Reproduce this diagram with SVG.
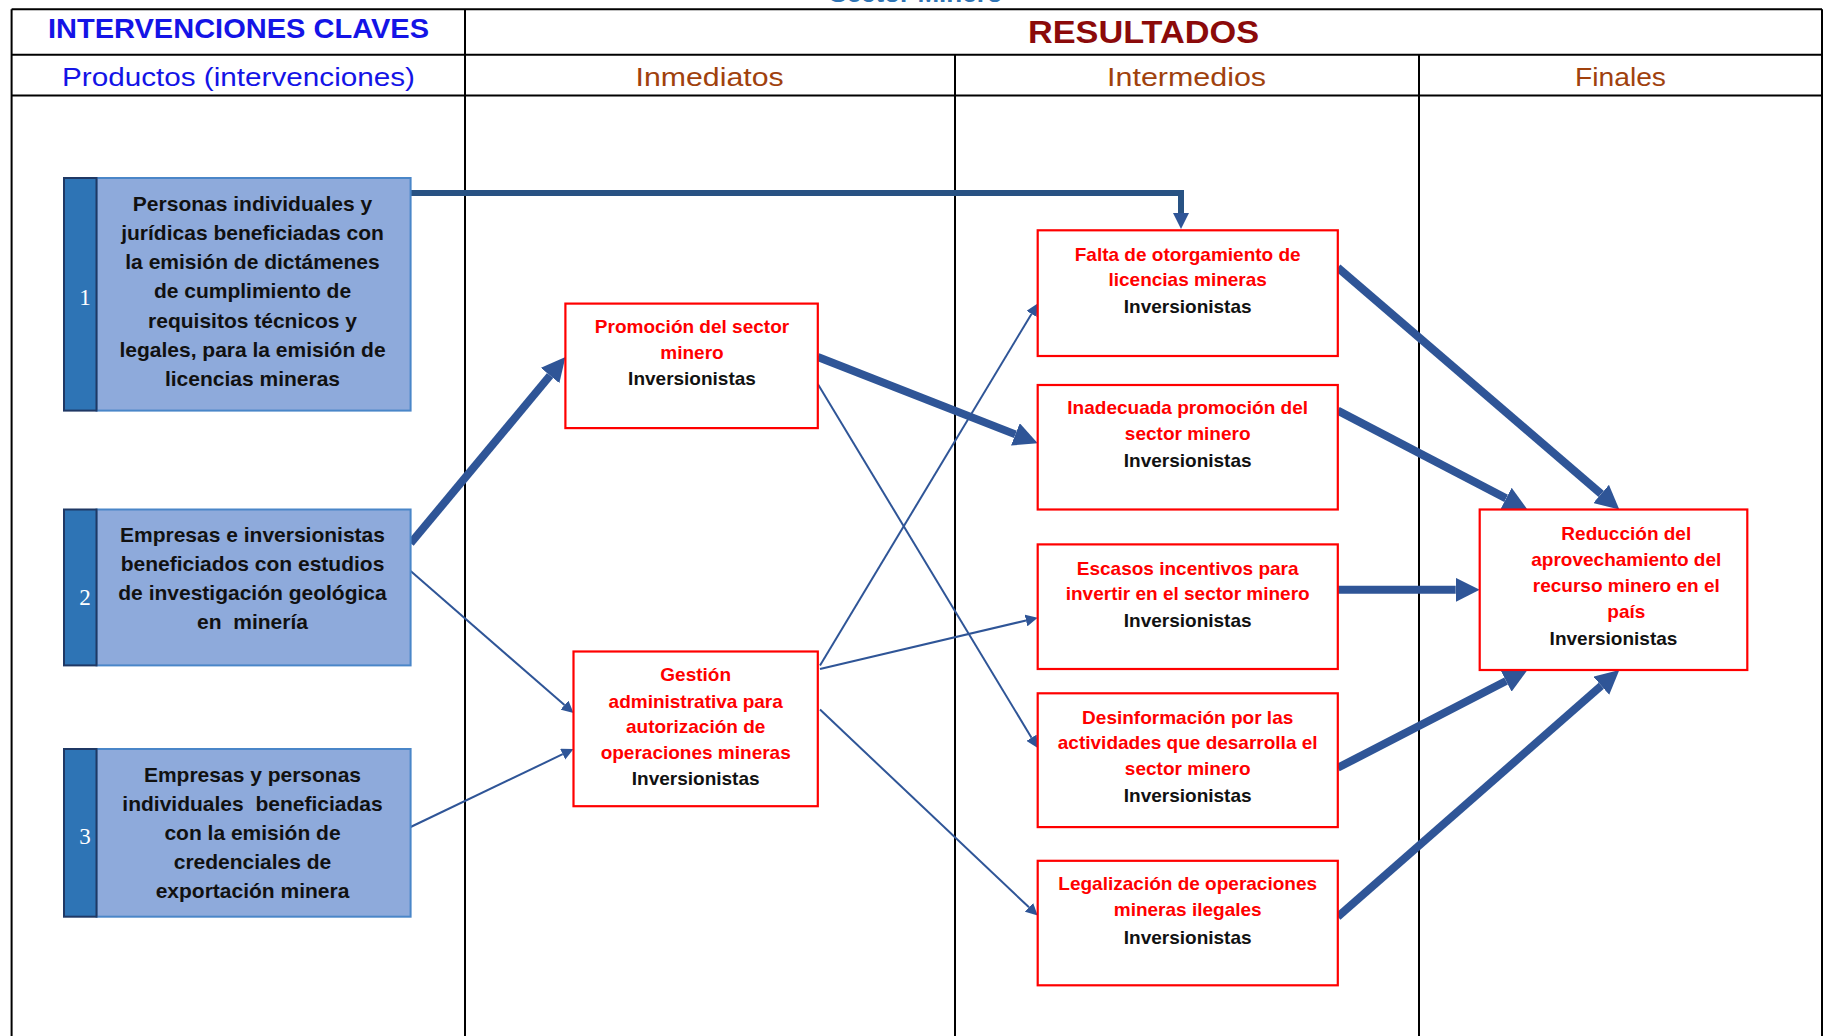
<svg xmlns="http://www.w3.org/2000/svg" width="1824" height="1036" viewBox="0 0 1824 1036">
<defs>
<style>
.grid{stroke:#000;stroke-width:2;fill:none}
.hdr{font-family:"Liberation Sans",Arial,sans-serif;text-anchor:middle}
.prod rect.main{fill:#8EAADB;stroke:#4A86C8;stroke-width:2}
.prod rect.bar{fill:#2E74B5;stroke:#1F3864;stroke-width:2}
.num{font-family:"Liberation Serif","Times New Roman",serif;font-size:23px;fill:#fff;text-anchor:middle}
.ptxt{font-family:"Liberation Sans",Arial,sans-serif;font-size:21px;font-weight:bold;fill:#111;text-anchor:middle;white-space:pre}
.res rect{fill:#fff;stroke:#FF0000;stroke-width:2.2}
.rtxt{font-family:"Liberation Sans",Arial,sans-serif;font-size:19px;font-weight:bold;text-anchor:middle}
.red{fill:#FF0000}
.blk{fill:#111}
.thick{stroke:#2F5597;stroke-width:8;fill:none}
.thin{stroke:#2F5597;stroke-width:2;fill:none}
</style>
<marker id="ahT" viewBox="0 0 24 24" markerWidth="24" markerHeight="24" refX="0" refY="12" orient="auto" markerUnits="userSpaceOnUse"><path d="M0,0 L24,12 L0,24 z" fill="#2F5597"/></marker>
<marker id="ahM" viewBox="0 0 16 16" markerWidth="16" markerHeight="16" refX="0" refY="8" orient="auto" markerUnits="userSpaceOnUse"><path d="M0,0 L16,8 L0,16 z" fill="#2F5597"/></marker>
<marker id="ahS" viewBox="0 0 12 12" markerWidth="12" markerHeight="12" refX="0" refY="6" orient="auto" markerUnits="userSpaceOnUse"><path d="M0,0 L12,6 L0,12 z" fill="#2F5597"/></marker>
</defs>

<text x="916" y="2" class="hdr" font-size="26" font-weight="bold" fill="#2E74B5">Sector Minero</text>

<g id="table">
<line class="grid" x1="11.6" y1="9.3" x2="1822" y2="9.3"/>
<line class="grid" x1="11.6" y1="54.7" x2="1822" y2="54.7"/>
<line class="grid" x1="11.6" y1="95.4" x2="1822" y2="95.4"/>
<line class="grid" x1="11.6" y1="9.3" x2="11.6" y2="1036"/>
<line class="grid" x1="465" y1="9.3" x2="465" y2="1036"/>
<line class="grid" x1="955" y1="54.7" x2="955" y2="1036"/>
<line class="grid" x1="1419" y1="54.7" x2="1419" y2="1036"/>
<line class="grid" x1="1822" y1="9.3" x2="1822" y2="1036"/>
<text class="hdr" x="238.5" y="38" font-size="28" font-weight="bold" fill="#1414E6" textLength="381" lengthAdjust="spacingAndGlyphs">INTERVENCIONES CLAVES</text>
<text class="hdr" x="1143.5" y="43" font-size="32" font-weight="bold" fill="#8B0A0A" textLength="231" lengthAdjust="spacingAndGlyphs">RESULTADOS</text>
<text class="hdr" x="238.5" y="86" font-size="26" fill="#1414E6" textLength="353" lengthAdjust="spacingAndGlyphs">Productos (intervenciones)</text>
<text class="hdr" x="709.6" y="86" font-size="26" fill="#A0410D" textLength="148" lengthAdjust="spacingAndGlyphs">Inmediatos</text>
<text class="hdr" x="1186.6" y="86" font-size="26" fill="#A0410D" textLength="159" lengthAdjust="spacingAndGlyphs">Intermedios</text>
<text class="hdr" x="1620.5" y="86" font-size="26" fill="#A0410D" textLength="91" lengthAdjust="spacingAndGlyphs">Finales</text>
</g>

<g id="connectors">
<path d="M410.6,193 H1181 V213" stroke="#285283" stroke-width="6" fill="none" marker-end="url(#ahM)"/>
<line class="thick" x1="410.6" y1="543.3" x2="550.1" y2="375.5" marker-end="url(#ahT)"/>
<line class="thin" x1="410.6" y1="571" x2="564.5" y2="705.1" marker-end="url(#ahS)"/>
<line class="thin" x1="410.6" y1="827" x2="562.7" y2="754.2" marker-end="url(#ahS)"/>
<line class="thick" x1="817.8" y1="357" x2="1015.4" y2="434.4" marker-end="url(#ahT)"/>
<line class="thin" x1="817.8" y1="384" x2="1031.5" y2="737.7" marker-end="url(#ahS)"/>
<line class="thin" x1="820" y1="665.4" x2="1031.5" y2="313.9" marker-end="url(#ahS)"/>
<line class="thin" x1="820" y1="669" x2="1026" y2="620.5" marker-end="url(#ahS)"/>
<line class="thin" x1="820" y1="709.6" x2="1029" y2="907.3" marker-end="url(#ahS)"/>
<line class="thick" x1="1337.8" y1="267.6" x2="1601.1" y2="493.9" marker-end="url(#ahT)"/>
<line class="thick" x1="1337.8" y1="410.6" x2="1506.1" y2="498.4" marker-end="url(#ahT)"/>
<line class="thick" x1="1337.8" y1="589.8" x2="1455.7" y2="589.8" marker-end="url(#ahT)"/>
<line class="thick" x1="1337.8" y1="767.8" x2="1506.1" y2="681" marker-end="url(#ahT)"/>
<line class="thick" x1="1337.8" y1="916.7" x2="1601.3" y2="685.8" marker-end="url(#ahT)"/>
</g>

<g id="p1" class="prod">
<rect class="main" x="96.5" y="178" width="314.1" height="232.6"/>
<rect class="bar" x="64" y="178" width="32.5" height="232.6"/>
<text class="num" x="85" y="305">1</text>
<text class="ptxt"><tspan x="252.5" y="211">Personas individuales y</tspan><tspan x="252.5" y="240">jurídicas beneficiadas con</tspan><tspan x="252.5" y="269">la emisión de dictámenes</tspan><tspan x="252.5" y="298">de cumplimiento de</tspan><tspan x="252.5" y="328">requisitos técnicos y</tspan><tspan x="252.5" y="357">legales, para la emisión de</tspan><tspan x="252.5" y="386">licencias mineras</tspan></text>
</g>

<g id="p2" class="prod">
<rect class="main" x="96.5" y="509.5" width="314.1" height="155.9"/>
<rect class="bar" x="64" y="509.5" width="32.5" height="155.9"/>
<text class="num" x="85" y="605">2</text>
<text class="ptxt"><tspan x="252.5" y="542">Empresas e inversionistas</tspan><tspan x="252.5" y="571">beneficiados con estudios</tspan><tspan x="252.5" y="600">de investigación geológica</tspan><tspan x="252.5" y="629">en  minería</tspan></text>
</g>

<g id="p3" class="prod">
<rect class="main" x="96.5" y="749" width="314.1" height="167.7"/>
<rect class="bar" x="64" y="749" width="32.5" height="167.7"/>
<text class="num" x="85" y="844">3</text>
<text class="ptxt"><tspan x="252.5" y="782">Empresas y personas</tspan><tspan x="252.5" y="811">individuales  beneficiadas</tspan><tspan x="252.5" y="840">con la emisión de</tspan><tspan x="252.5" y="869">credenciales de</tspan><tspan x="252.5" y="898">exportación minera</tspan></text>
</g>

<g id="inm1" class="res">
<rect x="565.4" y="303.6" width="252.4" height="124.5"/>
<text class="rtxt"><tspan class="red" x="692" y="333">Promoción del sector</tspan><tspan class="red" x="692" y="358.5">minero</tspan><tspan class="blk" x="692" y="385">Inversionistas</tspan></text>
</g>

<g id="inm2" class="res">
<rect x="573.5" y="651.5" width="244.3" height="154.7"/>
<text class="rtxt"><tspan class="red" x="695.7" y="681">Gestión</tspan><tspan class="red" x="695.7" y="707.5">administrativa para</tspan><tspan class="red" x="695.7" y="733">autorización de</tspan><tspan class="red" x="695.7" y="759">operaciones mineras</tspan><tspan class="blk" x="695.7" y="785.4">Inversionistas</tspan></text>
</g>

<g id="int1" class="res">
<rect x="1037.7" y="230.3" width="300.1" height="125.7"/>
<text class="rtxt"><tspan class="red" x="1187.7" y="261">Falta de otorgamiento de</tspan><tspan class="red" x="1187.7" y="286.4">licencias mineras</tspan><tspan class="blk" x="1187.7" y="313">Inversionistas</tspan></text>
</g>

<g id="int2" class="res">
<rect x="1037.7" y="385" width="300.1" height="124.5"/>
<text class="rtxt"><tspan class="red" x="1187.7" y="414.3">Inadecuada promoción del</tspan><tspan class="red" x="1187.7" y="440">sector minero</tspan><tspan class="blk" x="1187.7" y="466.7">Inversionistas</tspan></text>
</g>

<g id="int3" class="res">
<rect x="1037.7" y="544.4" width="300.1" height="124.6"/>
<text class="rtxt"><tspan class="red" x="1187.7" y="575">Escasos incentivos para</tspan><tspan class="red" x="1187.7" y="600.4">invertir en el sector minero</tspan><tspan class="blk" x="1187.7" y="627.2">Inversionistas</tspan></text>
</g>

<g id="int4" class="res">
<rect x="1037.7" y="693.3" width="300.1" height="133.8"/>
<text class="rtxt"><tspan class="red" x="1187.7" y="723.8">Desinformación por las</tspan><tspan class="red" x="1187.7" y="749.3">actividades que desarrolla el</tspan><tspan class="red" x="1187.7" y="775">sector minero</tspan><tspan class="blk" x="1187.7" y="801.7">Inversionistas</tspan></text>
</g>

<g id="int5" class="res">
<rect x="1037.7" y="860.8" width="300.1" height="124.5"/>
<text class="rtxt"><tspan class="red" x="1187.7" y="890">Legalización de operaciones</tspan><tspan class="red" x="1187.7" y="915.7">mineras ilegales</tspan><tspan class="blk" x="1187.7" y="943.6">Inversionistas</tspan></text>
</g>

<g id="fin1" class="res">
<rect x="1479.7" y="509.5" width="267.6" height="160.5"/>
<text class="rtxt"><tspan class="red" x="1626.3" y="540">Reducción del</tspan><tspan class="red" x="1626.3" y="565.5">aprovechamiento del</tspan><tspan class="red" x="1626.3" y="592.3">recurso minero en el</tspan><tspan class="red" x="1626.3" y="618">país</tspan><tspan class="blk" x="1613.5" y="644.6">Inversionistas</tspan></text>
</g>
</svg>
